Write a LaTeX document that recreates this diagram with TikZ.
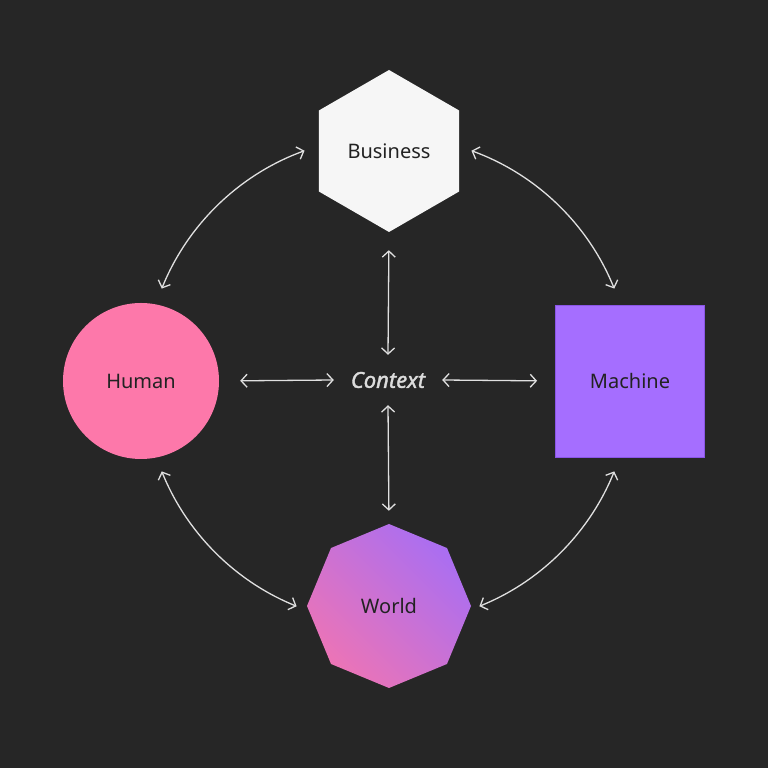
\documentclass[tikz,border=0pt]{standalone}
\usepackage{fontspec}
\setmainfont{Noto Sans}
\newfontfamily\ctxfont{Noto Sans}[ItalicFeatures={FakeBold=1.6}]
\usetikzlibrary{shapes.geometric,arrows.meta,calc}
\definecolor{bg}{HTML}{262626}
\definecolor{ink}{HTML}{222222}
\definecolor{linkc}{HTML}{E0E0E0}
\definecolor{ctxc}{HTML}{DCDCDC}
\definecolor{bizc}{HTML}{F6F6F6}
\definecolor{humc}{HTML}{FD78AA}
\definecolor{macc}{HTML}{A56EFF}
\definecolor{macb}{HTML}{8A55E6}
\definecolor{wtop}{HTML}{A96EF2}
\definecolor{wbot}{HTML}{EC74B6}
\begin{document}
\begin{tikzpicture}[x=1pt,y=1pt,
  lbl/.style={text=ink, inner sep=0pt, font=\fontsize{20}{24}\selectfont},
  tipb/.tip={Straight Barb[length=6pt,width=13pt]},
  link/.style={draw=linkc, line width=1.3pt, tipb-tipb}
]
\fill[bg] (0,0) rectangle (768,768);
\useasboundingbox (0,0) rectangle (768,768);

\node[lbl, regular polygon, regular polygon sides=6, shape border rotate=30,
      minimum size=162pt, fill=bizc] (business) at (389,617) {Business};
\node[lbl, circle, minimum size=156pt, fill=humc] (human) at (141,387) {Human};
\node[lbl, rectangle, minimum width=149pt, minimum height=152pt, fill=macc,
      draw=macb, line width=0.8pt] (machine) at (630,387) {Machine};
\node[lbl, regular polygon, regular polygon sides=8, shape border rotate=22.5,
      minimum size=164pt, top color=wtop, bottom color=wbot, shading angle=-45] (world) at (389,162) {World};
\node[minimum width=108pt, minimum height=50pt, inner sep=0pt, text=ctxc,
      font=\fontsize{22}{26}\ctxfont\itshape] (ctx) at (388,388) {Context};

\draw[link, shorten <=18pt] (business.270) -- (ctx.north);
\draw[link, shorten >=13pt] (ctx.south) -- (world.90);
\draw[link, shorten <=21pt] (human.east) -- (ctx.west);
\draw[link, shorten >=18pt] (ctx.east) -- (machine.west);

\coordinate (tr) at ($(ctx.center)+(22:244)$);
\coordinate (tl) at ($(ctx.center)+(110:244)$);
\coordinate (bl) at ($(ctx.center)+(202:244)$);
\coordinate (br) at ($(ctx.center)+(292:244)$);
\draw[link] (tr) arc[start angle=22, end angle=70, radius=244pt];
\draw[link] (tl) arc[start angle=110, end angle=158, radius=244pt];
\draw[link] (bl) arc[start angle=202, end angle=248, radius=244pt];
\draw[link] (br) arc[start angle=292, end angle=338, radius=244pt];
\end{tikzpicture}
\end{document}
